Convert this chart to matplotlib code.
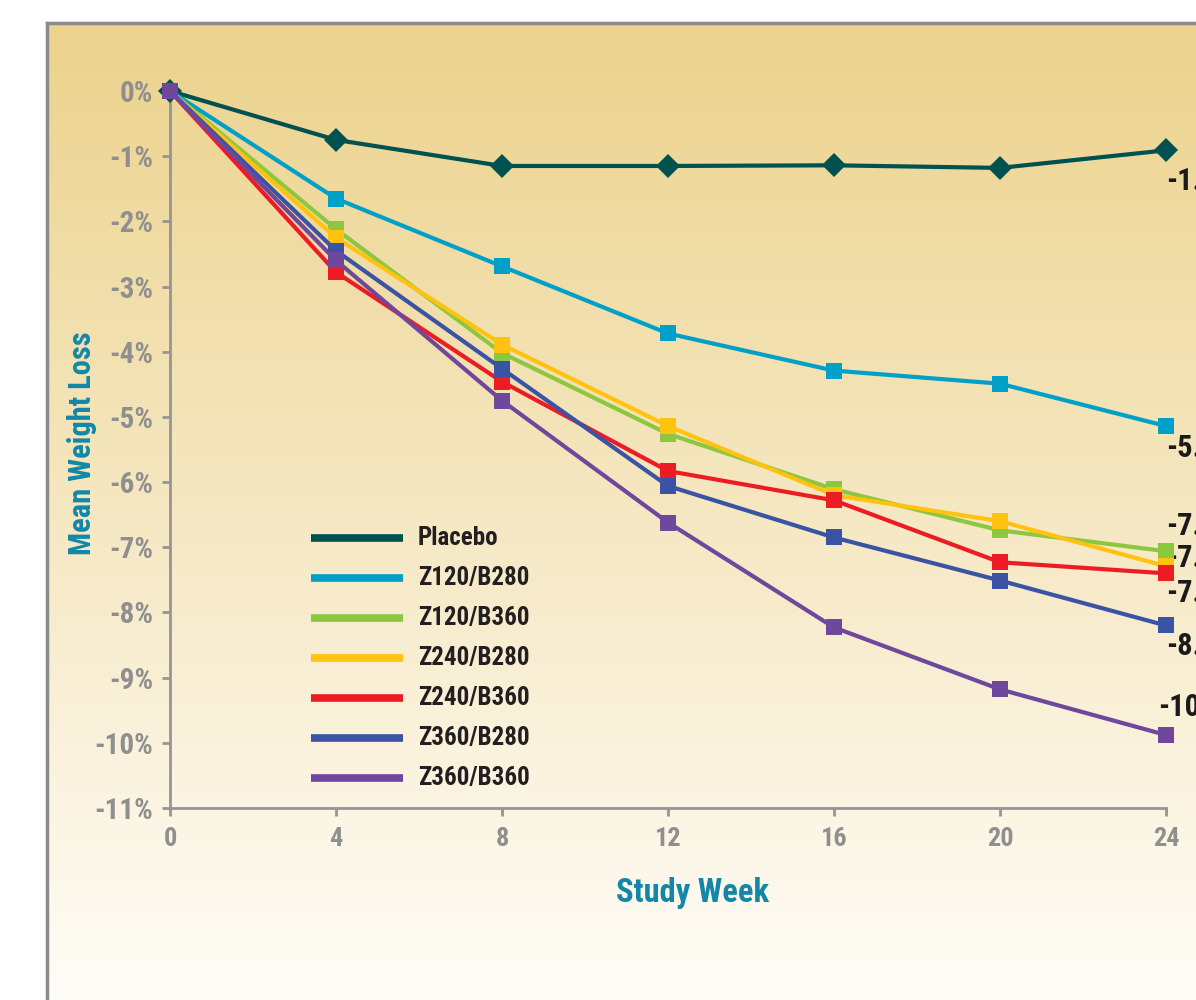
import matplotlib
matplotlib.use("Agg")
import matplotlib.pyplot as plt
import numpy as np

# data
weeks = [0, 4, 8, 12, 16, 20, 24]
placebo = [0, -0.75, -1.15, -1.15, -1.14, -1.18, -0.91]
z120_b280 = [0, -1.65, -2.69, -3.72, -4.29, -4.49, -5.14]
z120_b360 = [0, -2.12, -4.02, -5.26, -6.11, -6.74, -7.06]
z240_b280 = [0, -2.25, -3.89, -5.14, -6.20, -6.60, -7.29]
z240_b360 = [0, -2.78, -4.46, -5.83, -6.28, -7.23, -7.40]
z360_b280 = [0, -2.45, -4.26, -6.06, -6.85, -7.51, -8.20]
z360_b360 = [0, -2.60, -4.75, -6.62, -8.23, -9.18, -9.88]

names = ["Placebo", "Z120/B280", "Z120/B360", "Z240/B280",
         "Z240/B360", "Z360/B280", "Z360/B360"]
series = [placebo, z120_b280, z120_b360, z240_b280, z240_b360, z360_b280, z360_b360]
colors = ["#00514F", "#00A0C8", "#8DC63F", "#FFC20E", "#ED1C24", "#3A53A4", "#6F479C"]

end_labels = ["-1.1%", "-5.1%", "-7.0%", "-7.3%", "-7.4%", "-8.2%", "-10.3%"]
end_label_y = [-1.38, -5.47, -6.67, -7.17, -7.7, -8.52, -9.45]

yticks = list(range(0, -12, -1))
ytick_labels = ["%d%%" % v for v in yticks]

fam = ["Roboto Condensed", "Barlow Condensed", "Liberation Sans Narrow", "DejaVu Sans"]
plt.rcParams["font.family"] = fam
W = 800

fig = plt.figure(figsize=(11.96, 10), dpi=100)

# background panel with vertical gradient and grey frame
left_px, top_px = 47, 23
bg = fig.add_axes([left_px / 1196, 0, 1 - left_px / 1196, 1 - top_px / 1000])
top_c = np.array([236, 210, 140]) / 255
bot_c = np.array([255, 253, 248]) / 255
t = np.linspace(0, 1, 256)[:, None]
grad = top_c[None, :] * (1 - t) + bot_c[None, :] * t
bg.imshow(grad[:, None, :], aspect="auto", extent=[0, 1, 0, 1])
bg.set_axis_off()
fig.add_artist(plt.Line2D([left_px / 1196, left_px / 1196], [0, 1 - top_px / 1000],
                          color="#8a8a8a", lw=2.5, transform=fig.transFigure))
fig.add_artist(plt.Line2D([left_px / 1196, 1], [1 - top_px / 1000, 1 - top_px / 1000],
                          color="#8a8a8a", lw=2.5, transform=fig.transFigure))

ax = fig.add_axes([170 / 1196, 1 - 808 / 1000, (1166 - 170) / 1196, (808 - 91) / 1000])
ax.patch.set_alpha(0)

for i, (name, vals, c) in enumerate(zip(names, series, colors)):
    mk = "D" if i == 0 else "s"
    ms = 12 if i == 0 else 12
    ax.plot(weeks, vals, color=c, lw=3, marker=mk, markersize=ms,
            markeredgewidth=0, clip_on=False, zorder=3 + i, solid_joinstyle="round")

ax.set_xlim(0, 24)
ax.set_ylim(-11, 0)
ax.set_xticks(weeks)
ax.set_yticks(yticks)
ax.set_yticklabels(ytick_labels)
for s in ["top", "right"]:
    ax.spines[s].set_visible(False)
for s in ["left", "bottom"]:
    ax.spines[s].set_color("#959595")
    ax.spines[s].set_linewidth(2)
ax.tick_params(axis="both", colors="#959595", length=6, width=2, direction="out")
for lab in ax.get_yticklabels():
    lab.set_fontsize(21)
    lab.set_fontweight(W)
    lab.set_color("#8f8f8f")
for lab in ax.get_xticklabels():
    lab.set_fontsize(19)
    lab.set_fontweight(W)
    lab.set_color("#8f8f8f")
ax.tick_params(axis="y", pad=6)
ax.tick_params(axis="x", pad=8)

# end-of-study value labels (cut off by the page edge)
for txt, yv in zip(end_labels, end_label_y):
    xoff = 0.0 if not txt.startswith("-10") else -0.2
    ax.text(24.0 + xoff, yv, txt, fontsize=22, fontweight=W, color="#1a1a1a",
            ha="left", va="center", clip_on=False)

# legend drawn by hand to match spacing
leg_x0, leg_x1, leg_tx = 311, 403, 418
for i, (name, c) in enumerate(zip(names, colors)):
    yp = 1 - (538 + 40 * i) / 1000
    fig.add_artist(plt.Line2D([leg_x0 / 1196, leg_x1 / 1196], [yp, yp], color=c, lw=5.5,
                              transform=fig.transFigure, solid_capstyle="butt"))
    fig.text(leg_tx / 1196, yp, name, fontsize=18, fontweight=W, color="#231f20",
             ha="left", va="center")

fig.text(82 / 1196, 1 - 443 / 1000, "Mean Weight Loss", rotation=90, fontsize=22,
         fontweight=W, color="#1287A8", ha="center", va="center")
fig.text(693 / 1196, 1 - 893 / 1000, "Study Week", fontsize=23.5,
         fontweight=W, color="#1287A8", ha="center", va="center")

fig.savefig("out.png", dpi=100)
